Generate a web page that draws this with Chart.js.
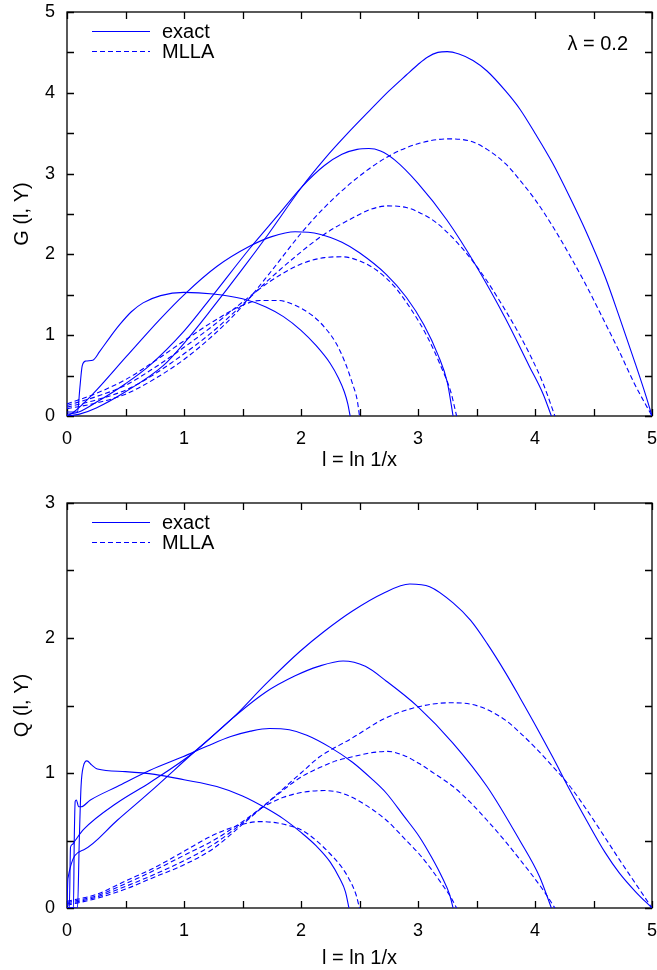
<!DOCTYPE html>
<html>
<head>
<meta charset="utf-8">
<script src="https://cdn.jsdelivr.net/npm/chart.js@4.4.0/dist/chart.umd.min.js"></script>
<style>
  html, body { margin: 0; padding: 0; background: #fff; }
  .box { position: absolute; left: 0; width: 657px; height: 485px; }
</style>
</head>
<body>
<div class="box" style="top:0"><canvas id="chartG" width="657" height="485"></canvas></div>
<div class="box" style="top:485px"><canvas id="chartQ" width="657" height="485"></canvas></div>
<script>
// ticks
var xTicks = [0, 1, 2, 3, 4, 5];
var gTicks = [0, 1, 2, 3, 4, 5];
var qTicks = [0, 1, 2, 3];

// G(l, Y): [l, value] pairs, exact curves
var gExact1 = [[0, 0.05], [0.09, 0.05], [0.11, 0.35], [0.13, 0.62], [0.16, 0.68], [0.22, 0.69], [0.28, 0.8], [0.37, 0.98], [0.45, 1.13], [0.55, 1.29], [0.65, 1.4], [0.8, 1.49], [1.0, 1.53], [1.25, 1.51], [1.5, 1.45], [1.7, 1.35], [1.85, 1.23], [2.0, 1.06], [2.13, 0.87], [2.25, 0.65], [2.32, 0.47], [2.37, 0.3], [2.4, 0.15], [2.42, 0]];
var gExact2 = [[0, 0], [0.05, 0.04], [0.22, 0.27], [0.51, 0.74], [0.79, 1.19], [1.0, 1.5], [1.28, 1.85], [1.56, 2.1], [1.75, 2.22], [1.95, 2.28], [2.16, 2.25], [2.35, 2.15], [2.5, 2.02], [2.73, 1.75], [2.9, 1.47], [3.05, 1.13], [3.17, 0.76], [3.25, 0.42], [3.3, 0]];
var gExact3 = [[0, 0.02], [0.1, 0.05], [0.25, 0.17], [0.5, 0.4], [0.71, 0.63], [1.0, 1.05], [1.25, 1.5], [1.56, 2.07], [1.8, 2.48], [2.01, 2.84], [2.2, 3.1], [2.35, 3.24], [2.48, 3.3], [2.58, 3.31], [2.68, 3.28], [2.8, 3.17], [3.0, 2.88], [3.25, 2.42], [3.5, 1.85], [3.75, 1.2], [3.95, 0.62], [4.07, 0.27], [4.14, 0]];
var gExact4 = [[0, 0], [0.1, 0.02], [0.25, 0.1], [0.5, 0.3], [0.82, 0.62], [1.0, 0.9], [1.25, 1.35], [1.5, 1.82], [1.72, 2.25], [2.01, 2.84], [2.2, 3.18], [2.4, 3.5], [2.6, 3.8], [2.75, 4.02], [2.9, 4.22], [3.0, 4.35], [3.08, 4.44], [3.17, 4.5], [3.25, 4.51], [3.35, 4.48], [3.47, 4.4], [3.59, 4.27], [3.75, 4.02], [3.87, 3.8], [4.0, 3.5], [4.15, 3.13], [4.3, 2.7], [4.44, 2.27], [4.6, 1.72], [4.72, 1.23], [4.85, 0.68], [4.95, 0.24], [5.0, 0]];
// G(l, Y): MLLA curves
var gMlla1 = [[0, 0.15], [0.25, 0.28], [0.5, 0.45], [0.75, 0.68], [1.0, 0.93], [1.25, 1.17], [1.5, 1.37], [1.65, 1.43], [1.8, 1.43], [1.95, 1.37], [2.1, 1.24], [2.2, 1.1], [2.3, 0.9], [2.38, 0.65], [2.44, 0.4], [2.48, 0.2], [2.5, 0]];
var gMlla2 = [[0, 0.13], [0.25, 0.24], [0.5, 0.38], [0.75, 0.6], [1.0, 0.85], [1.25, 1.12], [1.5, 1.41], [1.75, 1.68], [2.0, 1.88], [2.2, 1.96], [2.35, 1.97], [2.5, 1.92], [2.65, 1.8], [2.8, 1.6], [2.95, 1.3], [3.08, 0.98], [3.2, 0.6], [3.28, 0.3], [3.33, 0]];
var gMlla3 = [[0, 0.11], [0.25, 0.2], [0.5, 0.32], [0.75, 0.52], [1.0, 0.77], [1.25, 1.05], [1.5, 1.38], [1.75, 1.72], [2.0, 2.03], [2.2, 2.25], [2.44, 2.45], [2.6, 2.56], [2.74, 2.6], [2.9, 2.58], [3.01, 2.52], [3.15, 2.4], [3.3, 2.2], [3.45, 1.95], [3.59, 1.67], [3.75, 1.3], [3.87, 1.0], [3.97, 0.72], [4.07, 0.4], [4.17, 0]];
var gMlla4 = [[0, 0.09], [0.25, 0.16], [0.5, 0.27], [0.75, 0.46], [1.0, 0.7], [1.25, 1.0], [1.5, 1.36], [1.75, 1.8], [2.0, 2.26], [2.2, 2.58], [2.44, 2.9], [2.73, 3.2], [3.0, 3.37], [3.27, 3.43], [3.45, 3.4], [3.59, 3.3], [3.75, 3.12], [3.87, 2.92], [4.0, 2.68], [4.15, 2.35], [4.3, 1.98], [4.44, 1.61], [4.6, 1.15], [4.72, 0.8], [4.85, 0.4], [5.0, 0]];

// Q(l, Y): exact curves
var qExact1 = [[0, 0], [0.09, 0], [0.105, 0.5], [0.12, 0.9], [0.14, 1.05], [0.17, 1.09], [0.21, 1.06], [0.26, 1.03], [0.5, 1.01], [0.75, 0.99], [1.0, 0.95], [1.28, 0.9], [1.5, 0.83], [1.7, 0.74], [1.85, 0.66], [2.0, 0.56], [2.13, 0.46], [2.25, 0.34], [2.33, 0.22], [2.38, 0.12], [2.41, 0]];
var qExact2 = [[0, 0], [0.055, 0], [0.062, 0.5], [0.07, 0.79], [0.08, 0.8], [0.1, 0.75], [0.12, 0.75], [0.2, 0.8], [0.43, 0.9], [0.71, 1.02], [0.99, 1.12], [1.2, 1.2], [1.4, 1.27], [1.57, 1.31], [1.73, 1.33], [1.9, 1.32], [2.05, 1.28], [2.25, 1.19], [2.44, 1.08], [2.6, 0.96], [2.73, 0.85], [2.88, 0.68], [3.01, 0.53], [3.12, 0.37], [3.21, 0.22], [3.27, 0.1], [3.3, 0]];
var qExact3 = [[0, 0], [0.02, 0], [0.03, 0.45], [0.045, 0.47], [0.07, 0.5], [0.14, 0.58], [0.43, 0.78], [0.71, 0.93], [1.08, 1.15], [1.42, 1.41], [1.7, 1.6], [1.95, 1.72], [2.15, 1.79], [2.36, 1.83], [2.55, 1.79], [2.73, 1.68], [3.0, 1.49], [3.3, 1.22], [3.59, 0.9], [3.87, 0.5], [4.04, 0.23], [4.14, 0]];
var qExact4 = [[0, 0], [0.008, 0.22], [0.14, 0.43], [0.43, 0.65], [0.71, 0.86], [1.08, 1.15], [1.42, 1.41], [1.7, 1.66], [1.99, 1.9], [2.2, 2.05], [2.44, 2.2], [2.7, 2.33], [2.93, 2.4], [3.1, 2.38], [3.3, 2.26], [3.45, 2.13], [3.59, 1.96], [3.75, 1.74], [3.87, 1.56], [4.0, 1.36], [4.15, 1.12], [4.3, 0.87], [4.44, 0.65], [4.6, 0.41], [4.72, 0.26], [4.86, 0.12], [5.0, 0]];
// Q(l, Y): MLLA curves
var qMlla1 = [[0, 0.05], [0.25, 0.1], [0.5, 0.2], [0.75, 0.3], [1.0, 0.42], [1.25, 0.54], [1.5, 0.62], [1.65, 0.64], [1.8, 0.63], [1.9, 0.61], [2.0, 0.58], [2.13, 0.5], [2.25, 0.4], [2.35, 0.3], [2.42, 0.2], [2.47, 0.1], [2.5, 0]];
var qMlla2 = [[0, 0.04], [0.25, 0.09], [0.5, 0.18], [0.75, 0.28], [1.0, 0.39], [1.25, 0.5], [1.5, 0.64], [1.7, 0.76], [1.85, 0.82], [2.0, 0.855], [2.2, 0.87], [2.35, 0.85], [2.5, 0.79], [2.73, 0.65], [2.9, 0.5], [3.01, 0.4], [3.12, 0.28], [3.21, 0.17], [3.28, 0.08], [3.33, 0]];
var qMlla3 = [[0, 0.03], [0.25, 0.08], [0.5, 0.16], [0.75, 0.25], [1.0, 0.35], [1.25, 0.47], [1.5, 0.63], [1.7, 0.77], [2.0, 0.97], [2.16, 1.04], [2.3, 1.09], [2.44, 1.12], [2.6, 1.15], [2.74, 1.16], [2.88, 1.13], [3.01, 1.07], [3.15, 0.99], [3.3, 0.9], [3.45, 0.78], [3.59, 0.65], [3.75, 0.49], [3.87, 0.36], [3.97, 0.25], [4.08, 0.12], [4.17, 0]];
var qMlla4 = [[0, 0.02], [0.25, 0.07], [0.5, 0.14], [0.75, 0.23], [1.0, 0.32], [1.25, 0.44], [1.5, 0.62], [1.7, 0.77], [2.0, 1.0], [2.16, 1.12], [2.42, 1.25], [2.73, 1.41], [3.0, 1.49], [3.27, 1.52], [3.45, 1.51], [3.59, 1.47], [3.75, 1.39], [3.87, 1.3], [4.0, 1.19], [4.15, 1.05], [4.3, 0.9], [4.44, 0.73], [4.6, 0.52], [4.72, 0.36], [4.86, 0.18], [5.0, 0]];

var blue = '#0000ff';
var dashStyle = [5, 3];

function curve(points, dashed) {
    return {
        data: points.map(function (p) { return {x: p[0], y: p[1]}; }),
        borderColor: blue,
        borderWidth: 1.1,
        borderDash: dashed ? dashStyle : [],
        pointRadius: 0,
        fill: false,
        cubicInterpolationMode: 'monotone'
    };
}

// box with inside ticks on all four sides
var framePlugin = {
    id: 'frame',
    beforeDatasetsDraw: function (chart) {
        var ctx = chart.ctx, a = chart.chartArea;
        var xs = chart.scales.x, ys = chart.scales.y;
        var len = 7;
        ctx.save();
        ctx.strokeStyle = '#000';
        ctx.lineWidth = 1.3;
        ctx.strokeRect(a.left, a.top, a.right - a.left, a.bottom - a.top);
        ctx.beginPath();
        for (var v = xs.min; v <= xs.max + 1e-9; v += 0.5) {
            var px = Math.round(xs.getPixelForValue(v)) + 0.5;
            ctx.moveTo(px, a.bottom); ctx.lineTo(px, a.bottom - len);
            ctx.moveTo(px, a.top); ctx.lineTo(px, a.top + len);
        }
        for (var w = ys.min; w <= ys.max + 1e-9; w += 0.5) {
            var py = Math.round(ys.getPixelForValue(w)) + 0.5;
            ctx.moveTo(a.left, py); ctx.lineTo(a.left + len, py);
            ctx.moveTo(a.right, py); ctx.lineTo(a.right - len, py);
        }
        ctx.stroke();
        ctx.restore();
    }
};

// legend + label drawn inside the plot
var insidePlugin = {
    id: 'inside',
    afterDraw: function (chart, args, opts) {
        var ctx = chart.ctx, a = chart.chartArea;
        var rows = [['exact', []], ['MLLA', dashStyle]];
        ctx.save();
        ctx.font = '20px "Liberation Sans", Arial, sans-serif';
        ctx.textBaseline = 'middle';
        rows.forEach(function (r, i) {
            var y = a.top + 19 + i * 20 + 0.5;
            ctx.strokeStyle = blue;
            ctx.lineWidth = 1.1;
            ctx.setLineDash(r[1]);
            ctx.beginPath();
            ctx.moveTo(a.left + 25, y);
            ctx.lineTo(a.left + 83, y);
            ctx.stroke();
            ctx.fillStyle = '#000';
            ctx.fillText(r[0], a.left + 95, y + 1);
        });
        if (opts.note) {
            ctx.textAlign = 'right';
            ctx.fillText(opts.note, a.right - 24, a.top + 32);
        }
        ctx.restore();
    }
};

function makeChart(id, sets, yMax, yTicks, yTitle, padTop, xHeight, xTitlePad, note) {
    var tickFont = {family: '"Liberation Sans", Arial, sans-serif', size: 18};
    var titleFont = {family: '"Liberation Sans", Arial, sans-serif', size: 20};
    return new Chart(document.getElementById(id), {
        type: 'line',
        data: {datasets: sets},
        options: {
            responsive: false,
            animation: false,
            layout: {padding: {top: padTop, right: 5, left: 0, bottom: 0}},
            plugins: {legend: {display: false}, tooltip: {enabled: false}, inside: {note: note}},
            scales: {
                x: {
                    type: 'linear', min: 0, max: 5,
                    grid: {display: false, drawTicks: false},
                    border: {display: false},
                    afterBuildTicks: function (s) { s.ticks = xTicks.map(function (v) { return {value: v}; }); },
                    afterFit: function (s) { s.height = xHeight; s.paddingLeft = 0; s.paddingRight = 0; },
                    ticks: {color: '#000', font: tickFont, padding: 12, maxRotation: 0},
                    title: {display: true, text: 'l = ln 1/x', color: '#000', font: titleFont, padding: {top: 0, bottom: xTitlePad}}
                },
                y: {
                    type: 'linear', min: 0, max: yMax,
                    grid: {display: false, drawTicks: false},
                    border: {display: false},
                    afterBuildTicks: function (s) { s.ticks = yTicks.map(function (v) { return {value: v}; }); },
                    afterFit: function (s) { s.width = 67; s.paddingTop = 0; s.paddingBottom = 0; },
                    ticks: {color: '#000', font: tickFont, padding: 12},
                    title: {display: true, text: yTitle, color: '#000', font: titleFont, padding: {top: 10, bottom: 0}}
                }
            }
        },
        plugins: [framePlugin, insidePlugin]
    });
}

makeChart('chartG', [
    curve(gExact1), curve(gExact2), curve(gExact3), curve(gExact4),
    curve(gMlla1, true), curve(gMlla2, true), curve(gMlla3, true), curve(gMlla4, true)
], 5, gTicks, 'G (l, Y)', 12, 69, 13, '\u03bb = 0.2');

makeChart('chartQ', [
    curve(qExact1), curve(qExact2), curve(qExact3), curve(qExact4),
    curve(qMlla1, true), curve(qMlla2, true), curve(qMlla3, true), curve(qMlla4, true)
], 3, qTicks, 'Q (l, Y)', 18, 62, 0, null);
</script>
</body>
</html>
